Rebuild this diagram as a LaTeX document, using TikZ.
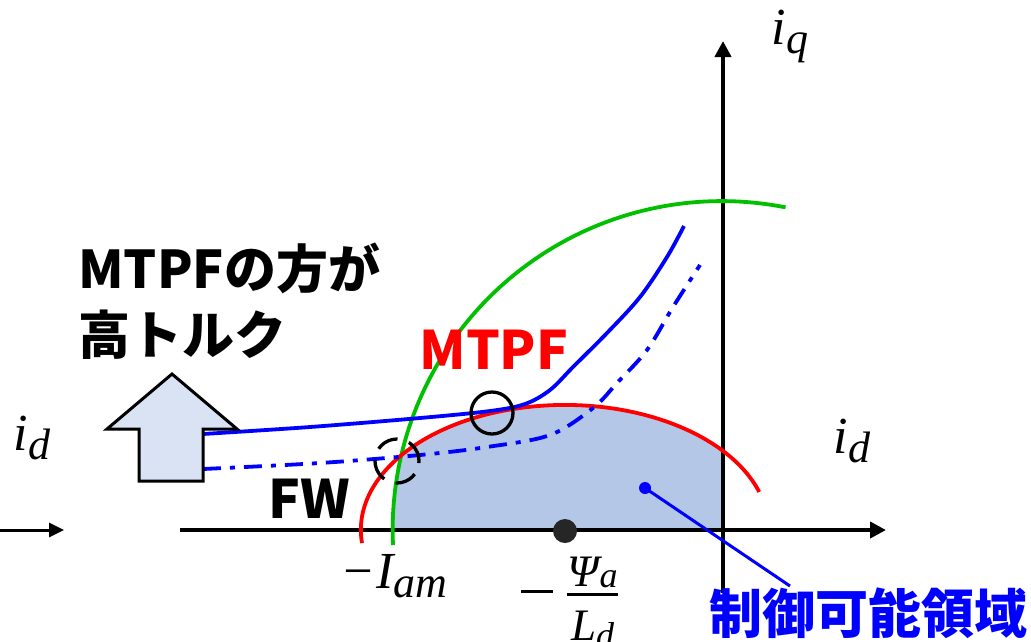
\RequirePackage{fix-cm}
\documentclass[tikz,border=0pt]{standalone}
\usepackage{fontspec}
\newfontfamily\jp{Noto Sans CJK JP}
\newfontfamily\mi{Liberation Serif}
\usetikzlibrary{arrows.meta}
\definecolor{fwgreen}{RGB}{0,192,0}
\definecolor{regionfill}{RGB}{180,199,231}
\definecolor{arrowfill}{RGB}{218,227,243}
\definecolor{dotgray}{RGB}{38,38,38}
\definecolor{mblue}{RGB}{0,0,255}
\newcommand\msub[1]{\raisebox{-9pt}{\fontsize{44}{48}\selectfont #1}}
\newcommand\fsub[2]{\raisebox{#1}{\fontsize{36}{40}\selectfont #2}}
\begin{document}
\begin{tikzpicture}[x=1pt,y=-1pt,
  axis/.style={line width=4pt,-{Triangle[length=16pt,width=16pt]}},
  mathlbl/.style={inner sep=0pt,font=\mi\itshape\fontsize{52}{56}\selectfont},
  boldlbl/.style={inner sep=0pt,font=\jp\bfseries\fontsize{53}{62}\selectfont},
  curve/.style={line width=3.8pt},
]
\useasboundingbox (0,0) rectangle (1031,641);

% control region
\fill[regionfill] (723,530) -- (723,451)
  arc[start angle=320.8,end angle=217.4,x radius=204,y radius=125]
  arc[start angle=193.4,end angle=180,radius=329] -- cycle;

% axes
\coordinate (xs) at (180,530);
\coordinate (xe) at (886,530);
\coordinate (ys) at (723,593);
\coordinate (ye) at (723,41);
\draw[axis] (xs) -- (xe);
\draw[axis] (ys) -- (ye);
\coordinate (ls) at (0,530);
\coordinate (le) at (64,530);
\draw[line width=3pt,-{Triangle[length=15pt,width=14pt]}] (ls) -- (le);

% current limit circle
\draw[fwgreen,curve] (393,545) arc[start angle=177.4,end angle=281.2,radius=329];
% voltage limit ellipse
\draw[red,curve] (362,543) arc[start angle=174,end angle=342.3,x radius=204,y radius=125];

% MTPF curve (solid)
\draw[mblue,curve] plot[smooth,tension=0.55] coordinates {(203,434) (310,427) (420,418) (490,411) (525,404) (550,390) (573,367) (607,333) (640,297) (667,257) (684,226)};
% FW curve (dash-dot)
\draw[mblue,curve,dash pattern=on 18pt off 9pt on 5pt off 9pt] plot[smooth,tension=0.55] coordinates {(203,469) (320,463) (420,455) (487,447) (550,435) (593,408) (617,383) (647,350) (673,307) (700,265)};

% markers
\node[draw,circle,line width=3.3pt,minimum size=42pt,inner sep=0pt] (c1) at (492,413) {};
\node[draw,circle,line width=3.3pt,dash pattern=on 22pt off 12pt,minimum size=44pt,inner sep=0pt] (c2) at (397,461) {};
\node[circle,fill=dotgray,minimum size=24pt,inner sep=0pt] (psi) at (565,531) {};

% big arrow
\draw[line width=3pt,fill=arrowfill,line join=miter] (172,374) -- (237,429) -- (203,429) -- (203,481) -- (139,481) -- (139,429) -- (107,429) -- cycle;

% labels
\node[mathlbl] (iq) at (790,36) {i\msub{q}};
\node[mathlbl] (idr) at (852,441) {i\msub{d}};
\node[mathlbl] (idl) at (32,438) {i\msub{d}};
\node[mathlbl] (iam) at (394,576) {−I\msub{am}};
\node[mathlbl,anchor=base west,font=\mi\itshape\fontsize{45}{48}\selectfont] (psil) at (521,640)
  {\rule[47pt]{32pt}{3pt}\hspace{14pt}\shortstack{Ψ\fsub{-1pt}{a}\\[1.5pt]\rule{51pt}{3pt}\\[12pt]L\fsub{-7pt}{d}}};

\node[boldlbl,red] (mtpf) at (494,350) {MTPF};
\node[boldlbl] (fw) at (309,499) {FW};
\node[boldlbl,anchor=north west,align=left,font=\jp\bfseries\fontsize{52}{66}\selectfont] (note) at (78,243) {MTPFの方が\\高トルク};

\node[circle,fill=mblue,minimum size=12pt,inner sep=0pt] (rd) at (645,488) {};
\node[boldlbl,mblue,anchor=north] (region) at (868,588) {制御可能領域};
\coordinate (rl) at (790,586);
\draw[mblue,line width=3pt] (rd.center) -- (rl);
\end{tikzpicture}
\end{document}
